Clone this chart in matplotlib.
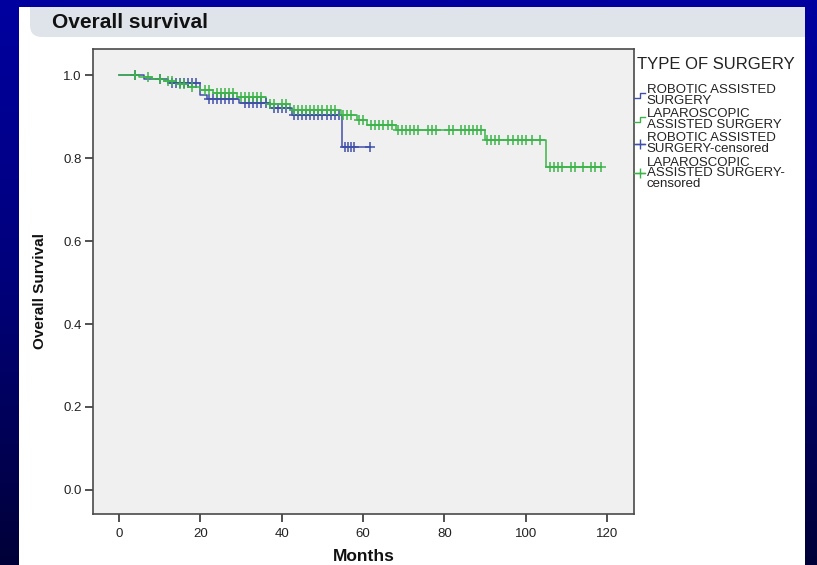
import numpy as np
import matplotlib
matplotlib.use("Agg")
import matplotlib.pyplot as plt
from matplotlib.lines import Line2D
from matplotlib.patches import Rectangle, FancyBboxPatch
from matplotlib.colors import LinearSegmentedColormap
from matplotlib.legend_handler import HandlerBase

plt.rcParams['font.family'] = ['Liberation Sans', 'DejaVu Sans']

# Kaplan-Meier steps (months, survival after the event)
robot_times = [0, 6, 12, 19.8, 21.5, 29.5, 37, 42.4, 54.8]
robot_surv = [1.0, 0.99, 0.982, 0.952, 0.943, 0.933, 0.92, 0.904, 0.827]
robot_end = 61.8
robot_cens = [3.8, 10, 13, 14, 15, 16, 17, 18, 19, 22, 23, 24, 25, 26, 27, 28,
              31, 32, 33, 34, 35, 36, 38, 39, 40, 41, 43, 44, 45, 46, 47, 48,
              49, 50, 51, 52, 53, 54, 55.5, 56.3, 57, 57.8, 61.8]

lap_times = [0, 5, 8, 11, 14, 17, 20, 23, 29, 36, 42, 54.5, 58.5, 61, 68, 90, 105]
lap_surv = [1.0, 0.995, 0.99, 0.986, 0.979, 0.972, 0.963, 0.956, 0.948, 0.93,
            0.917, 0.905, 0.893, 0.88, 0.867, 0.843, 0.778]
lap_end = 118.6
lap_cens = [4, 7, 10, 12, 13, 15, 16, 18, 21, 22, 24, 25, 26, 27, 28, 30, 31, 32,
            33, 34, 35, 37, 38, 40, 41, 43, 44, 45, 46, 47, 48, 49, 50, 51, 52, 53,
            55, 56, 57, 59, 60, 62, 63, 64, 65, 66, 67, 68.5, 69.5, 70.5, 71.5,
            72.5, 73.5, 76, 77, 78, 81, 82, 84, 85, 86, 87, 88, 89, 90.5, 91.5,
            92.5, 93.5, 95.5, 96.8, 98, 99, 100, 101.5, 103.5, 106, 107, 108, 109,
            111, 112, 114, 116, 117, 118.6]

legend_title = "TYPE OF SURGERY"
labels = ["ROBOTIC ASSISTED\nSURGERY", "LAPAROSCOPIC\nASSISTED SURGERY",
          "ROBOTIC ASSISTED\nSURGERY-censored", "LAPAROSCOPIC\nASSISTED SURGERY-\ncensored"]
x_ticks = [0, 20, 40, 60, 80, 100, 120]
y_ticks = [0.0, 0.2, 0.4, 0.6, 0.8, 1.0]

blue = "#4050a8"
green = "#3cb44a"

W, H = 817, 565
fig = plt.figure(figsize=(W / 100, H / 100), dpi=100)

# page background: blue slide with white panel and grey header bar
bg = fig.add_axes([0, 0, 1, 1], zorder=-10)
bg.set_xlim(0, W)
bg.set_ylim(H, 0)
bg.axis("off")
cmap = LinearSegmentedColormap.from_list("slide", ["#0000a0", "#00007a", "#000038"])
bg.imshow(np.linspace(0, 1, 256).reshape(-1, 1), cmap=cmap, aspect="auto",
          extent=[0, W, H, 0])
panel = Rectangle((19, 7), 786, H, facecolor="white", edgecolor="none")
bg.add_patch(panel)
header = FancyBboxPatch((30, -20), 800, 57, boxstyle="round,pad=0,rounding_size=12",
                        facecolor="#dfe4ea", edgecolor="none")
bg.add_patch(header)
header.set_clip_path(panel)
bg.text(52, 22, "Overall survival", fontsize=15, fontweight="bold", color="#111111",
        va="center", ha="left", family=["Liberation Sans Narrow", "Liberation Sans", "DejaVu Sans"])
bg.text(637, 57, legend_title, fontsize=12, color="#222222", va="top", ha="left")

ax = fig.add_axes([92.7 / W, 1 - 514 / H, (634 - 92.7) / W, (514 - 49) / H])
ax.set_facecolor("#f0f0f0")


def km_xy(times, surv, end):
    return np.append(times, end), np.append(surv, surv[-1])


def cens_y(times, surv, cens):
    idx = np.searchsorted(times, cens, side="right") - 1
    return np.array(surv)[idx]


x, y = km_xy(robot_times, robot_surv, robot_end)
ax.step(x, y, where="post", color=blue, lw=1.1)
x, y = km_xy(lap_times, lap_surv, lap_end)
ax.step(x, y, where="post", color=green, lw=1.1)
ax.plot(robot_cens, cens_y(robot_times, robot_surv, robot_cens), ls="none",
        marker="+", ms=6.5, mew=1.1, color=blue)
ax.plot(lap_cens, cens_y(lap_times, lap_surv, lap_cens), ls="none",
        marker="+", ms=6.5, mew=1.1, color=green)

ax.set_xlim(-6.5, 126.6)
ax.set_ylim(-0.058, 1.063)
ax.set_xticks(x_ticks)
ax.set_yticks(y_ticks)
ax.set_yticklabels([f"{v:.1f}" for v in y_ticks])
ax.tick_params(direction="out", length=6, width=1.2, color="#333333",
               labelsize=9.5, labelcolor="#222222", pad=2)
ax.tick_params(axis="x", pad=4)
for s in ax.spines.values():
    s.set_color("#4a4a4a")
    s.set_linewidth(1.2)

ax.set_xlabel("Months", fontsize=12.5, fontweight="bold", color="#111111")
ax.set_ylabel("Overall Survival", fontsize=11, fontweight="bold", color="#111111")
ax.xaxis.set_label_coords(0.5, -0.075)
ax.yaxis.set_label_coords(-0.085, 0.48)


class StepHandler(HandlerBase):
    def create_artists(self, legend, orig_handle, xdescent, ydescent, width, height,
                       fontsize, trans):
        xs = np.array([0, 0.5, 0.5, 1.0]) * width - xdescent
        ys = np.array([0.2, 0.2, 0.75, 0.75]) * height - ydescent
        ln = Line2D(xs, ys, color=orig_handle.get_color(), lw=1)
        ln.set_transform(trans)
        return [ln]


h_robot = Line2D([], [], color=blue, lw=1)
h_lap = Line2D([], [], color=green, lw=1)
h_rc = Line2D([], [], color=blue, lw=1, marker="+", ms=6.5, mew=1)
h_lc = Line2D([], [], color=green, lw=1, marker="+", ms=6.5, mew=1)
leg = fig.legend([h_robot, h_lap, h_rc, h_lc], labels, loc="upper left",
                 bbox_to_anchor=(634 / W, 1 - 84 / H), frameon=False,
                 fontsize=9.5, handlelength=0.85, handletextpad=0.1,
                 labelspacing=0.12, borderpad=0, borderaxespad=0,
                 handler_map={h_robot: StepHandler(), h_lap: StepHandler()})
for t in leg.get_texts():
    t.set_color("#222222")
    t.set_linespacing(0.85)

fig.savefig("out.png", dpi=100)
